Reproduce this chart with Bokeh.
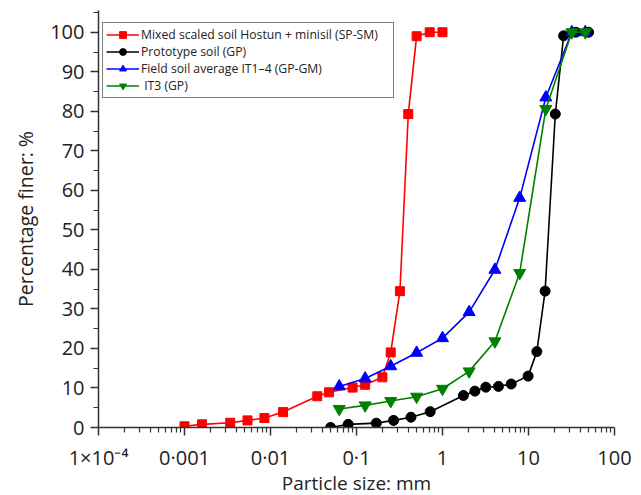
from bokeh.plotting import figure
from bokeh.models import (Range1d, FixedTicker, CustomJSTickFormatter, Legend,
                          LegendItem, SingleIntervalTicker, Title)
from bokeh.embed import file_html
from bokeh.resources import INLINE

# ---- data ----
red_x = [0.001, 0.0016, 0.0034, 0.0054, 0.0085, 0.014, 0.035, 0.048, 0.09, 0.126,
         0.2, 0.25, 0.32, 0.40, 0.50, 0.71, 1.0]
red_y = [0.3, 0.8, 1.2, 1.8, 2.4, 3.9, 7.9, 8.9, 10.1, 10.8, 12.7, 19.0, 34.5,
         79.3, 99.0, 100, 100]

black_x = [0.05, 0.08, 0.17, 0.27, 0.43, 0.72, 1.75, 2.38, 3.19, 4.47, 6.3, 9.9,
           12.5, 15.6, 20.5, 25.6, 35.5, 50]
black_y = [0, 0.8, 1.1, 1.8, 2.6, 4.0, 8.1, 9.2, 10.2, 10.4, 11.0, 13.0, 19.2,
           34.5, 79.3, 99.1, 100, 100]

blue_x = [0.063, 0.126, 0.25, 0.5, 1.0, 2.04, 4.07, 7.9, 15.9, 31.9, 45.7]
blue_y = [10.4, 12.4, 15.5, 18.9, 22.6, 29.2, 39.9, 58.1, 83.5, 100, 100]

green_x = [0.063, 0.126, 0.25, 0.5, 1.0, 2.04, 4.07, 7.9, 15.9, 31.9, 45.7]
green_y = [4.7, 5.6, 6.7, 7.8, 9.8, 14.2, 21.8, 39.1, 80.6, 100, 100]

series_names = ["Mixed scaled soil Hostun + minisil (SP-SM)",
                "Prototype soil (GP)",
                "Field soil average IT1\u20134 (GP-GM)",
                " IT3 (GP)"]

x_ticks = [1e-4, 1e-3, 1e-2, 1e-1, 1, 10, 100]
x_tick_labels = ["1\u00d710\u207b\u2074", "0\u00b7001", "0\u00b701", "0\u00b71", "1", "10", "100"]

x_label = "Particle size: mm"
y_label = "Percentage finer: %"

FONT = "Open Sans"
TXT = "#222222"

p = figure(width=641, height=495, x_axis_type="log",
           x_range=Range1d(1e-4, 100), y_range=Range1d(0, 105.5),
           output_backend="svg", toolbar_location=None,
           min_border_left=98, min_border_right=27, min_border_top=10,
           min_border_bottom=68)
p.outline_line_color = None
p.grid.visible = False

minor = [m * 10 ** e for e in range(-4, 2) for m in range(2, 10)]
p.xaxis.ticker = FixedTicker(ticks=x_ticks, minor_ticks=minor)
p.xaxis.formatter = CustomJSTickFormatter(args=dict(labels=x_tick_labels),
                                          code="return labels[Math.round(Math.log10(tick)) + 4];")
p.yaxis.ticker = SingleIntervalTicker(interval=10, num_minor_ticks=2)

for ax in (p.xaxis, p.yaxis):
    ax.axis_line_width = 1.5
    ax.axis_line_color = "#333333"
    ax.major_tick_line_color = "#333333"
    ax.minor_tick_line_color = "#333333"
    ax.major_tick_line_width = 1.5
    ax.minor_tick_line_width = 1.2
    ax.major_tick_in = 0
    ax.major_tick_out = 8
    ax.minor_tick_in = 0
    ax.minor_tick_out = 5
    ax.major_label_text_font = FONT
    ax.major_label_text_font_size = "20px"
    ax.major_label_text_color = TXT
    ax.major_label_text_line_height = 1.0
    ax.axis_label_text_font = FONT
    ax.axis_label_text_font_size = "19.5px"
    ax.axis_label_text_font_style = "normal"
    ax.axis_label_text_color = TXT
    ax.axis_label_text_line_height = 1.0

p.yaxis.axis_label = y_label
p.xaxis.major_label_standoff = 8
p.yaxis.major_label_standoff = 6
p.yaxis.axis_label_standoff = 8

# x-axis title as a "below" title panel
p.add_layout(Title(text=x_label, align="center", vertical_align="top",
                   text_font=FONT, text_font_size="19px", text_font_style="normal",
                   text_color=TXT, standoff=-8, offset=0, text_line_height=1.0), "below")

items = []
specs = [
    (red_x, red_y, "#ff0000", "square", 9),
    (black_x, black_y, "#000000", "circle", 10),
    (blue_x, blue_y, "#0000ff", "triangle", 12),
    (green_x, green_y, "#008000", "inverted_triangle", 12),
]
for (xs, ys, col, mk, sz), name in zip(specs, series_names):
    ln = p.line(xs, ys, line_color=col, line_width=1.6)
    sc = p.scatter(xs, ys, marker=mk, size=sz, fill_color=col, line_color=col)
    items.append(LegendItem(label=name, renderers=[ln, sc]))

legend = Legend(items=items, location=(4, 329))
legend.border_line_color = "#000000"
legend.border_line_width = 1.5
legend.padding = 3
legend.spacing = 0
legend.margin = 0
legend.glyph_width = 33
legend.glyph_height = 17
legend.label_height = 17
legend.label_standoff = 2
legend.label_width = 249
legend.label_text_font = FONT
legend.label_text_font_size = "12.2px"
legend.label_text_color = TXT
legend.background_fill_alpha = 1
p.add_layout(legend, "center")

open("out.html", "w").write(file_html(p, INLINE))
